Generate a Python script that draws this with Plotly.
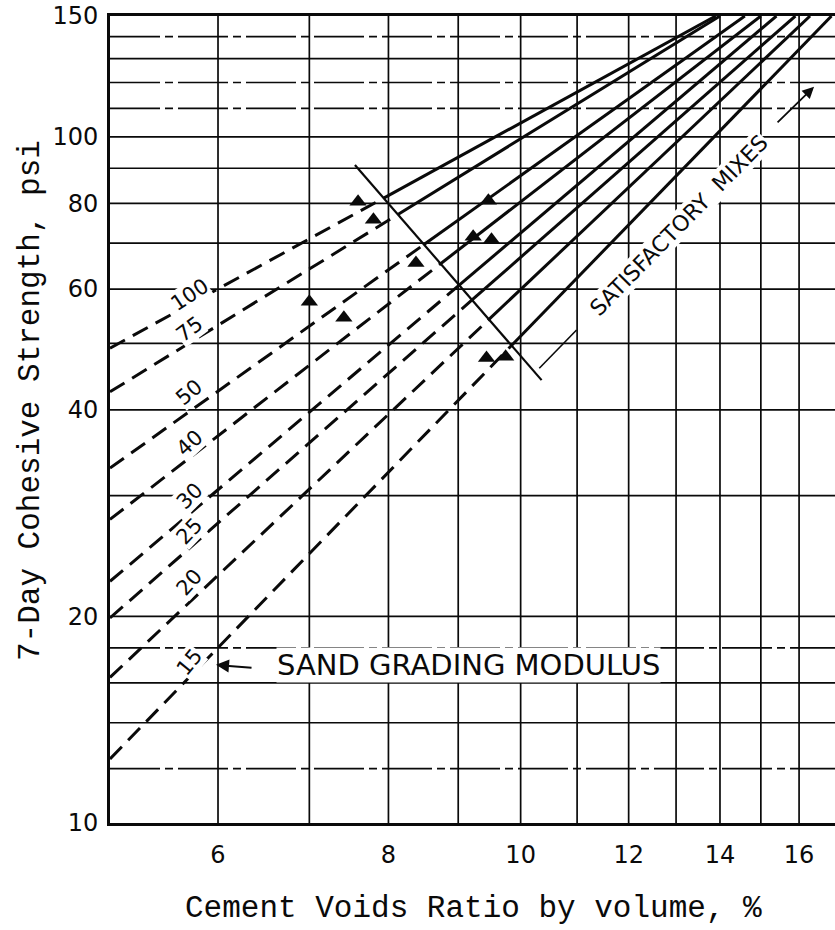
import numpy as np
import plotly.graph_objects as go

# ---------------- data ----------------
MODULUS = [100, 75, 50, 40, 30, 25, 20, 15]                  # sand grading modulus
STRENGTH_AT_X5 = [49.2, 42.5, 32.9, 27.7, 22.5, 19.9, 16.3, 12.4]   # psi at voids ratio 5 %
VOIDS_AT_150 = [13.9, 14.0, 14.6, 15.0, 15.4, 15.9, 16.3, 16.9]    # voids ratio where line reaches 150 psi

POINT_VOIDS = [7.0, 7.42, 7.6, 7.8, 8.38, 9.47, 9.23, 9.52, 9.44, 9.75]
POINT_STRENGTH = [57.5, 54.5, 80.4, 75.7, 65.5, 80.7, 71.5, 70.8, 47.6, 47.8]

BOUNDARY_VOIDS = [7.56, 10.36]          # "satisfactory mixes" limit line
BOUNDARY_STRENGTH = [91.0, 44.2]

LEADER_VOIDS = [10.32, 10.99]
LEADER_STRENGTH = [46.0, 52.3]

X_MIN, X_MAX = 5, 17
Y_MIN, Y_MAX = 10, 150
X_TICKS = [6, 8, 10, 12, 14, 16]
X_GRID = [6, 7, 8, 9, 10, 11, 12, 13, 14, 15, 16]
Y_TICKS = [10, 20, 40, 60, 80, 100, 150]
Y_GRID = [12, 14, 16, 18, 20, 30, 40, 50, 60, 70, 80, 90, 100, 110, 120, 130, 140]
Y_GRID_BROKEN = [12, 18, 110, 120, 140]

# ---------------- layout / style constants ----------------
W, H = 835, 930
ML, MR, MT, MB = 110, 0, 16, 107
PW, PH = W - ML - MR, H - MT - MB
XPD = PW / (np.log10(X_MAX) - np.log10(X_MIN))   # px per decade
YPD = PH / (np.log10(Y_MAX) - np.log10(Y_MIN))
LABEL_X = 5.72
LABEL_SHIFT = [9, 14, 19, 15, 18, 17, 20, 15]     # px above each line

INK = "#0a0a0a"
LETTER = "DejaVu Sans"
TYPE = "Liberation Mono"

fig = go.Figure()

# grid
gx, gy = [], []
for v in X_GRID:
    gx += [v, v, None]
    gy += [Y_MIN, Y_MAX, None]
fig.add_trace(go.Scatter(x=gx, y=gy, mode="lines", line=dict(color=INK, width=1.7),
                         hoverinfo="skip", showlegend=False))
hx, hy, bx_, by_ = [], [], [], []
for v in Y_GRID:
    if v in Y_GRID_BROKEN:
        bx_ += [X_MIN, X_MAX, None]
        by_ += [v, v, None]
    else:
        hx += [X_MIN, X_MAX, None]
        hy += [v, v, None]
fig.add_trace(go.Scatter(x=hx, y=hy, mode="lines", line=dict(color=INK, width=1.7),
                         hoverinfo="skip", showlegend=False))
fig.add_trace(go.Scatter(x=bx_, y=by_, mode="lines",
                         line=dict(color=INK, width=1.7, dash="50px,5px,8px,5px"),
                         hoverinfo="skip", showlegend=False))

# boundary line
lbx = np.log10(BOUNDARY_VOIDS)
lby = np.log10(BOUNDARY_STRENGTH)
bd = (lby[1] - lby[0]) / (lbx[1] - lbx[0])
bc = lby[0] - bd * lbx[0]
fig.add_trace(go.Scatter(x=BOUNDARY_VOIDS, y=BOUNDARY_STRENGTH, mode="lines",
                         line=dict(color=INK, width=2.2), hoverinfo="skip", showlegend=False))

# modulus lines: dashed up to the limit line, solid beyond it
annotations = []
for m, y5, x150, sh in zip(MODULUS, STRENGTH_AT_X5, VOIDS_AT_150, LABEL_SHIFT):
    X0, Y0 = np.log10(X_MIN), np.log10(y5)
    X1, Y1 = np.log10(x150), np.log10(Y_MAX)
    b = (Y1 - Y0) / (X1 - X0)
    a = Y0 - b * X0
    Xi = (bc - a) / (b - bd)
    Yi = a + b * Xi
    xi, yi = 10 ** Xi, 10 ** Yi
    fig.add_trace(go.Scatter(x=[X_MIN, xi], y=[y5, yi], mode="lines",
                             line=dict(color=INK, width=3, dash="17px,9px"),
                             hoverinfo="skip", showlegend=False))
    fig.add_trace(go.Scatter(x=[xi, x150], y=[yi, Y_MAX], mode="lines",
                             line=dict(color=INK, width=3),
                             hoverinfo="skip", showlegend=False))
    ang = np.degrees(np.arctan(b * YPD / XPD))
    lx = np.log10(LABEL_X)
    annotations.append(dict(x=lx, y=a + b * lx, xref="x", yref="y", text=str(m),
                            xanchor="center", yanchor="middle",
                            showarrow=False, textangle=-(ang + 5), yshift=sh,
                            font=dict(family=LETTER, size=21, color=INK),
                            bgcolor="white", borderpad=0))

# leader line of "satisfactory mixes"
fig.add_trace(go.Scatter(x=LEADER_VOIDS, y=LEADER_STRENGTH, mode="lines",
                         line=dict(color=INK, width=1.6), hoverinfo="skip", showlegend=False))

# test points
fig.add_trace(go.Scatter(x=POINT_VOIDS, y=POINT_STRENGTH, mode="markers",
                         marker=dict(symbol="triangle-up", size=15, color=INK),
                         hoverinfo="skip", showlegend=False))

def px2paper(px, py):
    return (px - ML) / PW, (H - MB - py) / PH

sx, sy = px2paper(468, 664.5)
annotations.append(dict(x=sx, y=sy, xref="paper", yref="paper", text="SAND GRADING MODULUS",
                        xanchor="center", yanchor="middle",
                        showarrow=False, font=dict(family=LETTER, size=29, color=INK),
                        bgcolor="white", borderpad=0))
# arrow to the modulus labels
annotations.append(dict(x=np.log10(5.98), y=np.log10(17.0), xref="x", yref="y", text="",
                        showarrow=True, ax=37, ay=3, arrowhead=2, arrowsize=1.3,
                        arrowwidth=2, arrowcolor=INK))
tx, ty = px2paper(679, 226)
annotations.append(dict(x=tx, y=ty, xref="paper", yref="paper", text="SATISFACTORY  MIXES",
                        xanchor="center", yanchor="middle",
                        showarrow=False, textangle=-45.5,
                        font=dict(family=LETTER, size=22, color=INK),
                        bgcolor="white", borderpad=0))
annotations.append(dict(x=np.log10(16.41), y=np.log10(118.3), xref="x", yref="y", text="",
                        showarrow=True, ax=-38, ay=37, arrowhead=2, arrowsize=1.3,
                        arrowwidth=1.8, arrowcolor=INK))

# axis titles
ax_, ay_ = px2paper(473, 908)
annotations.append(dict(x=ax_, y=ay_, xref="paper", yref="paper",
                        xanchor="center", yanchor="middle",
                        text="Cement Voids Ratio by volume, %", showarrow=False,
                        font=dict(family=TYPE, size=31, color=INK)))
yx_, yy_ = px2paper(30, 401)
annotations.append(dict(x=yx_, y=yy_, xref="paper", yref="paper",
                        xanchor="center", yanchor="middle",
                        text="7-Day Cohesive Strength, psi", showarrow=False, textangle=-90,
                        font=dict(family=TYPE, size=31, color=INK)))

fig.update_layout(
    width=W, height=H,
    margin=dict(l=ML, r=MR, t=MT, b=MB, autoexpand=False),
    paper_bgcolor="white", plot_bgcolor="white",
    showlegend=False,
    annotations=annotations,
    xaxis=dict(type="log", range=[np.log10(X_MIN), np.log10(X_MAX)],
               tickmode="array", tickvals=X_TICKS, ticktext=[str(v) for v in X_TICKS],
               showgrid=False, zeroline=False, ticks="", automargin=False,
               showline=True, linecolor=INK, linewidth=2.6, mirror=True,
               ticklabelstandoff=8,
               tickfont=dict(family=LETTER, size=24, color=INK)),
    yaxis=dict(type="log", range=[np.log10(Y_MIN), np.log10(Y_MAX)],
               tickmode="array", tickvals=Y_TICKS, ticktext=[str(v) for v in Y_TICKS],
               showgrid=False, zeroline=False, ticks="", automargin=False,
               showline=True, linecolor=INK, linewidth=2.6, mirror=False,
               ticklabelstandoff=4,
               tickfont=dict(family=LETTER, size=24, color=INK)),
)

fig.write_html("out.html", config={"displayModeBar": False},
               post_script="document.body.style.margin='0px';")
